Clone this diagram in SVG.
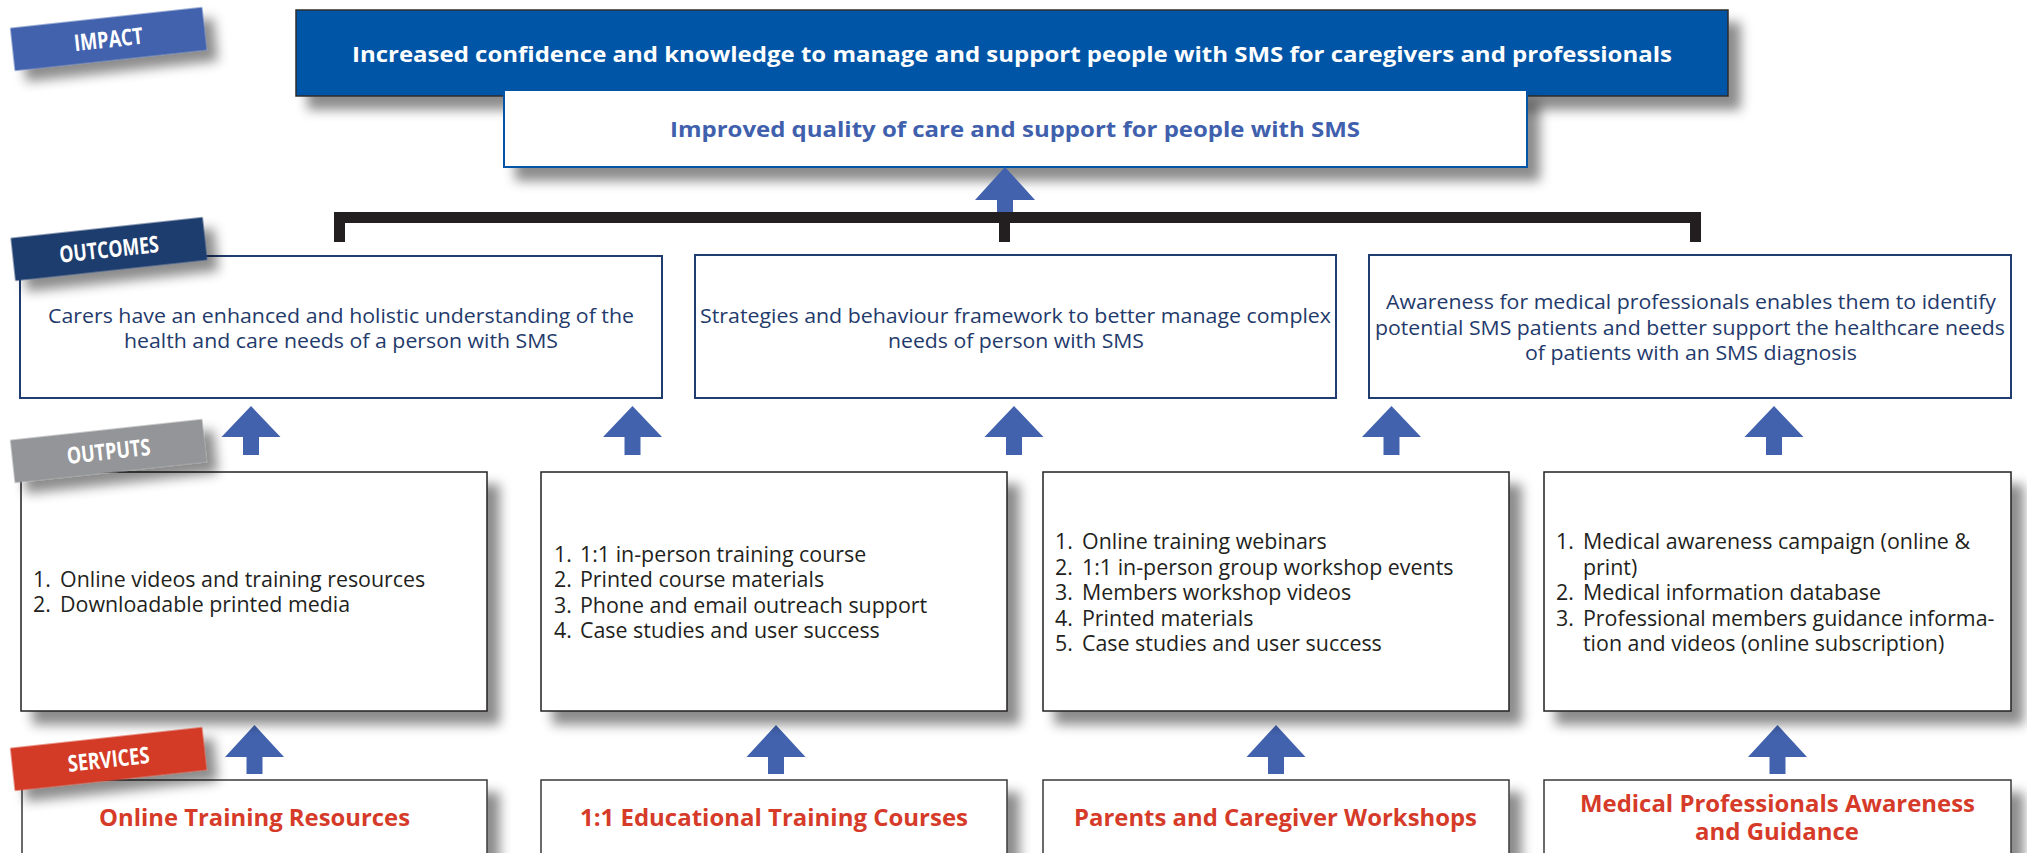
<svg xmlns="http://www.w3.org/2000/svg" width="2027" height="853" viewBox="0 0 2027 853">
<defs>
<filter id="sh" x="-5%" y="-10%" width="115%" height="145%">
<feDropShadow dx="12" dy="13" stdDeviation="6" flood-color="#000" flood-opacity="0.45"/>
</filter>
<filter id="shl" x="-20%" y="-40%" width="150%" height="220%">
<feDropShadow dx="10" dy="12" stdDeviation="6" flood-color="#000" flood-opacity="0.45"/>
</filter>
<style>
.lbl rect{filter:url(#shl)}
.lbl text{font-family:"Open Sans","Liberation Sans",sans-serif;font-weight:bold;font-size:23px;fill:#fff;text-anchor:middle}
.imp{fill:#0054a6;stroke:#2b2b2b;stroke-width:1.5;filter:url(#sh)}
.impt{font-family:"Open Sans","Liberation Sans",sans-serif;font-weight:bold;font-size:22px;fill:#fff;text-anchor:middle}
.q{fill:#fff;stroke:#0054a6;stroke-width:2;filter:url(#sh)}
.qt{font-family:"Open Sans","Liberation Sans",sans-serif;font-weight:bold;font-size:22px;fill:#4060ad;text-anchor:middle}
.oc{fill:#fff;stroke:#1f3d6e;stroke-width:2}
.oct{font-family:"Open Sans","Liberation Sans",sans-serif;font-size:20px;fill:#1f3a6b;text-anchor:middle}
.op{fill:#fff;stroke:#231f20;stroke-width:1.5;filter:url(#sh)}
.opt{font-family:"Open Sans","Liberation Sans",sans-serif;font-size:21.4px;fill:#231f20}
.sv{fill:#fff;stroke:#3a3a3a;stroke-width:1.5;filter:url(#sh)}
.svt{font-family:"Open Sans","Liberation Sans",sans-serif;font-weight:bold;font-size:24px;fill:#d63b29;text-anchor:middle}
.arr{fill:#4262ae}
.brk{fill:#231f20}
</style>
</defs>
<rect width="2027" height="853" fill="#fff"/>

<!-- impact -->
<g id="impact-main">
<rect class="imp" x="296" y="10" width="1432" height="86"/>
<text class="impt" x="1012" y="61.5" textLength="1320" lengthAdjust="spacingAndGlyphs">Increased confidence and knowledge to manage and support people with SMS for caregivers and professionals</text>
</g>
<g id="impact-quality">
<rect class="q" x="504" y="90" width="1023" height="77"/>
<text class="qt" x="1015" y="136.5" textLength="690" lengthAdjust="spacingAndGlyphs">Improved quality of care and support for people with SMS</text>
</g>

<!-- connectors -->
<g id="connectors">
<rect class="brk" x="334" y="212" width="1367" height="11"/>
<rect class="brk" x="334" y="212" width="11" height="30"/>
<rect class="brk" x="999" y="212" width="11" height="30"/>
<rect class="brk" x="1690" y="212" width="11" height="30"/>
<polygon class="arr" points="1005,167 1035,200 1013,200 1013,212 997,212 997,200 975,200"/>
<polygon class="arr" points="251,406 280.5,437 259,437 259,455 243,455 243,437 221.5,437"/>
<polygon class="arr" points="632.5,406 662,437 640.5,437 640.5,455 624.5,455 624.5,437 603,437"/>
<polygon class="arr" points="1014,406 1043.5,437 1022,437 1022,455 1006,455 1006,437 984.5,437"/>
<polygon class="arr" points="1391.5,406 1421,437 1399.5,437 1399.5,455 1383.5,455 1383.5,437 1362,437"/>
<polygon class="arr" points="1774,406 1803.5,437 1782,437 1782,455 1766,455 1766,437 1744.5,437"/>
<polygon class="arr" points="254.5,725 284,757 262.5,757 262.5,774 246.5,774 246.5,757 225,757"/>
<polygon class="arr" points="776,725 805.5,757 784,757 784,774 768,774 768,757 746.5,757"/>
<polygon class="arr" points="1276,725 1305.5,757 1284,757 1284,774 1268,774 1268,757 1246.5,757"/>
<polygon class="arr" points="1777.5,725 1807,757 1785.5,757 1785.5,774 1769.5,774 1769.5,757 1748,757"/>
</g>

<!-- outcomes -->
<g id="outcome-carers">
<rect class="oc" x="20" y="256" width="642" height="142"/>
<text class="oct" x="341" y="322.5" textLength="586" lengthAdjust="spacingAndGlyphs">Carers have an enhanced and holistic understanding of the</text>
<text class="oct" x="341" y="347.5" textLength="434" lengthAdjust="spacingAndGlyphs">health and care needs of a person with SMS</text>
</g>
<g id="outcome-strategies">
<rect class="oc" x="695" y="255" width="641" height="143"/>
<text class="oct" x="1015.5" y="322.5" textLength="631" lengthAdjust="spacingAndGlyphs">Strategies and behaviour framework to better manage complex</text>
<text class="oct" x="1016" y="347.5" textLength="256" lengthAdjust="spacingAndGlyphs">needs of person with SMS</text>
</g>
<g id="outcome-awareness">
<rect class="oc" x="1369" y="255" width="642" height="143"/>
<text class="oct" x="1691" y="309" textLength="610" lengthAdjust="spacingAndGlyphs">Awareness for medical professionals enables them to identify</text>
<text class="oct" x="1690" y="334.5" textLength="630" lengthAdjust="spacingAndGlyphs">potential SMS patients and better support the healthcare needs</text>
<text class="oct" x="1691" y="360" textLength="332" lengthAdjust="spacingAndGlyphs">of patients with an SMS diagnosis</text>
</g>

<!-- outputs -->
<g id="output-online">
<rect class="op" x="21" y="472" width="466" height="239"/>
<text class="opt" y="587"><tspan x="33">1.</tspan><tspan x="60">Online videos and training resources</tspan></text>
<text class="opt" y="612"><tspan x="33">2.</tspan><tspan x="60">Downloadable printed media</tspan></text>
</g>
<g id="output-courses">
<rect class="op" x="541" y="472" width="466" height="239"/>
<text class="opt" y="561.5"><tspan x="554">1.</tspan><tspan x="580">1:1 in-person training course</tspan></text>
<text class="opt" y="587"><tspan x="554">2.</tspan><tspan x="580">Printed course materials</tspan></text>
<text class="opt" y="612.5"><tspan x="554">3.</tspan><tspan x="580">Phone and email outreach support</tspan></text>
<text class="opt" y="638"><tspan x="554">4.</tspan><tspan x="580">Case studies and user success</tspan></text>
</g>
<g id="output-workshops">
<rect class="op" x="1043" y="472" width="466" height="239"/>
<text class="opt" y="549"><tspan x="1055">1.</tspan><tspan x="1082">Online training webinars</tspan></text>
<text class="opt" y="574.5"><tspan x="1055">2.</tspan><tspan x="1082">1:1 in-person group workshop events</tspan></text>
<text class="opt" y="600"><tspan x="1055">3.</tspan><tspan x="1082">Members workshop videos</tspan></text>
<text class="opt" y="625.5"><tspan x="1055">4.</tspan><tspan x="1082">Printed materials</tspan></text>
<text class="opt" y="651"><tspan x="1055">5.</tspan><tspan x="1082">Case studies and user success</tspan></text>
</g>
<g id="output-medical">
<rect class="op" x="1544" y="472" width="467" height="239"/>
<text class="opt" y="549"><tspan x="1556">1.</tspan><tspan x="1583">Medical awareness campaign (online &amp;</tspan></text>
<text class="opt" y="574.5"><tspan x="1583">print)</tspan></text>
<text class="opt" y="600"><tspan x="1556">2.</tspan><tspan x="1583">Medical information database</tspan></text>
<text class="opt" y="625.5"><tspan x="1556">3.</tspan><tspan x="1583">Professional members guidance informa-</tspan></text>
<text class="opt" y="651"><tspan x="1583">tion and videos (online subscription)</tspan></text>
</g>

<!-- services -->
<g id="service-online">
<rect class="sv" x="22" y="780" width="465" height="100"/>
<text class="svt" x="254.5" y="826" textLength="311" lengthAdjust="spacingAndGlyphs">Online Training Resources</text>
</g>
<g id="service-courses">
<rect class="sv" x="541" y="780" width="466" height="100"/>
<text class="svt" x="774" y="826" textLength="388" lengthAdjust="spacingAndGlyphs">1:1 Educational Training Courses</text>
</g>
<g id="service-workshops">
<rect class="sv" x="1043" y="780" width="466" height="100"/>
<text class="svt" x="1275.5" y="826" textLength="403" lengthAdjust="spacingAndGlyphs">Parents and Caregiver Workshops</text>
</g>
<g id="service-medical">
<rect class="sv" x="1544" y="780" width="467" height="100"/>
<text class="svt" x="1777.5" y="812" textLength="395" lengthAdjust="spacingAndGlyphs">Medical Professionals Awareness</text>
<text class="svt" x="1777" y="840" textLength="164" lengthAdjust="spacingAndGlyphs">and Guidance</text>
</g>

<!-- section labels -->
<g id="label-impact" class="lbl" transform="translate(108.5,39) rotate(-6.2)">
<rect x="-96.5" y="-21.5" width="193" height="43" fill="#4262ae"/>
<text x="0" y="8.5" textLength="69" lengthAdjust="spacingAndGlyphs">IMPACT</text>
</g>
<g id="label-outcomes" class="lbl" transform="translate(109,249) rotate(-6.2)">
<rect x="-96.5" y="-21.5" width="193" height="43" fill="#1e3d6e"/>
<text x="0" y="8.5" textLength="100" lengthAdjust="spacingAndGlyphs">OUTCOMES</text>
</g>
<g id="label-outputs" class="lbl" transform="translate(108.5,451) rotate(-6.2)">
<rect x="-96.5" y="-21.5" width="193" height="43" fill="#939598"/>
<text x="0" y="8.5" textLength="84" lengthAdjust="spacingAndGlyphs">OUTPUTS</text>
</g>
<g id="label-services" class="lbl" transform="translate(108.5,759) rotate(-6.2)">
<rect x="-96.5" y="-21.5" width="193" height="43" fill="#d33b27"/>
<text x="0" y="8.5" textLength="82" lengthAdjust="spacingAndGlyphs">SERVICES</text>
</g>
</svg>
